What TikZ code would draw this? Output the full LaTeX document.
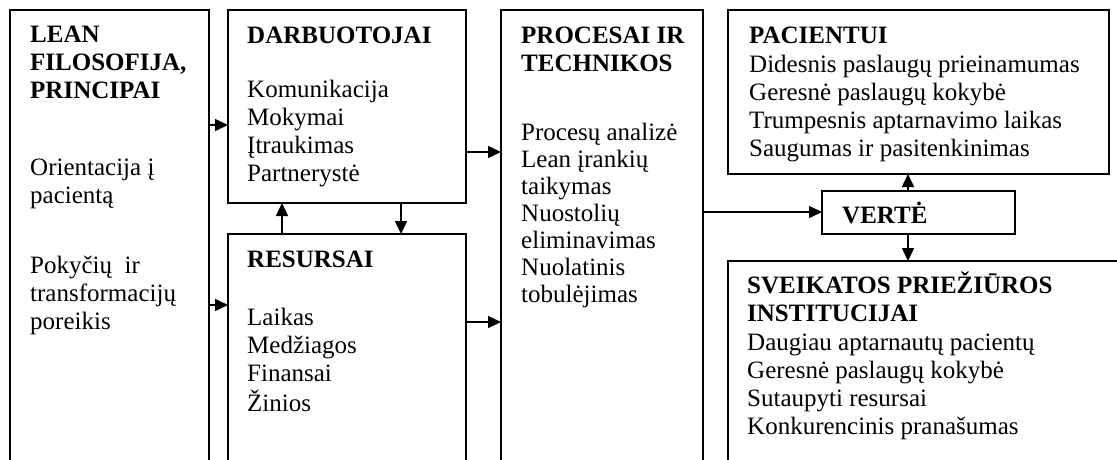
\documentclass[tikz,border=0pt]{standalone}
\usepackage{fontspec}
\setmainfont{Liberation Serif}
\usetikzlibrary{arrows.meta}
\newcommand\lns[1]{\begin{tabular}[t]{@{}l@{}}#1\end{tabular}}
\begin{document}
\begin{tikzpicture}[x=1pt,y=-1pt,
  box/.style={draw, line width=1.5pt, anchor=north west, inner sep=0pt, outer sep=0pt},
  txt/.style={anchor=base west, inner sep=0pt, font=\fontsize{25}{28.3}\selectfont},
  ttl/.style={anchor=base west, inner sep=0pt, font=\fontsize{25}{28.3}\selectfont\bfseries},
  arr/.style={line width=1.5pt, -{Triangle[length=13pt,width=12pt]}}]
\useasboundingbox (0,0) rectangle (1117,459);
\clip (0,0) rectangle (1117,459);
% boxes
\node[box, minimum width=199pt, minimum height=480pt] (lean) at (10,10) {};
\node[box, minimum width=238pt, minimum height=193pt] (darb) at (228,10) {};
\node[box, minimum width=238pt, minimum height=250pt] (res) at (228,234) {};
\node[box, minimum width=202pt, minimum height=480pt] (proc) at (501,10) {};
\node[box, minimum width=381pt, minimum height=164pt] (pac) at (728,10) {};
\node[box, minimum width=193pt, minimum height=43pt] (verte) at (822,191) {};
\node[box, minimum width=420pt, minimum height=250pt] (sveik) at (728,261) {};
% texts
\node[ttl] (leanT) at (30,42) {\lns{LEAN\\FILOSOFIJA,\\PRINCIPAI}};
\node[txt] (leanA) at (30,175) {\lns{Orientacija į\\pacientą}};
\node[txt] (leanB) at (30,273) {\lns{Pokyčių\ \ ir\\transformacijų\\poreikis}};
\node[ttl] (darbT) at (247,43) {DARBUOTOJAI};
\node[txt] (darbL) at (247,97) {\lns{Komunikacija\\Mokymai\\Įtraukimas\\Partnerystė}};
\node[ttl] (resT) at (247,267) {RESURSAI};
\node[txt] (resL) at (247,325) {\lns{Laikas\\Medžiagos\\Finansai\\Žinios}};
\node[ttl] (procT) at (521,43) {\lns{PROCESAI IR\\TECHNIKOS}};
\node[txt, font=\fontsize{25}{27}\selectfont] (procL) at (521,140) {\lns{Procesų analizė\\Lean įrankių\\taikymas\\Nuostolių\\eliminavimas\\Nuolatinis\\tobulėjimas}};
\node[ttl] (pacT) at (749,43) {PACIENTUI};
\node[txt] (pacL) at (749,72) {\lns{Didesnis paslaugų prieinamumas\\Geresnė paslaugų kokybė\\Trumpesnis aptarnavimo laikas\\Saugumas ir pasitenkinimas}};
\node[ttl] (verteT) at (842,223) {VERTĖ};
\node[ttl] (sveikT) at (747,293) {\lns{SVEIKATOS PRIEŽIŪROS\\INSTITUCIJAI}};
\node[txt] (sveikL) at (747,350) {\lns{Daugiau aptarnautų pacientų\\Geresnė paslaugų kokybė\\Sutaupyti resursai\\Konkurencinis pranašumas}};
% arrow levels
\coordinate (h1) at (0,125);
\coordinate (h2) at (0,305);
\coordinate (h3) at (0,152);
\coordinate (h4) at (0,322);
\coordinate (h5) at (0,212);
\coordinate (v1) at (282,0);
\coordinate (v2) at (401,0);
\coordinate (v3) at (908,0);
% connectors
\draw[arr] (lean.east |- h1) -- (darb.west |- h1);
\draw[arr] (lean.east |- h2) -- (res.west |- h2);
\draw[arr] (darb.east |- h3) -- (proc.west |- h3);
\draw[arr] (res.east |- h4) -- (proc.west |- h4);
\draw[arr] (res.north -| v1) -- (darb.south -| v1);
\draw[arr] (darb.south -| v2) -- (res.north -| v2);
\draw[arr] (proc.east |- h5) -- (verte.west |- h5);
\draw[arr] (verte.north -| v3) -- (pac.south -| v3);
\draw[arr] (verte.south -| v3) -- (sveik.north -| v3);
\end{tikzpicture}
\end{document}
